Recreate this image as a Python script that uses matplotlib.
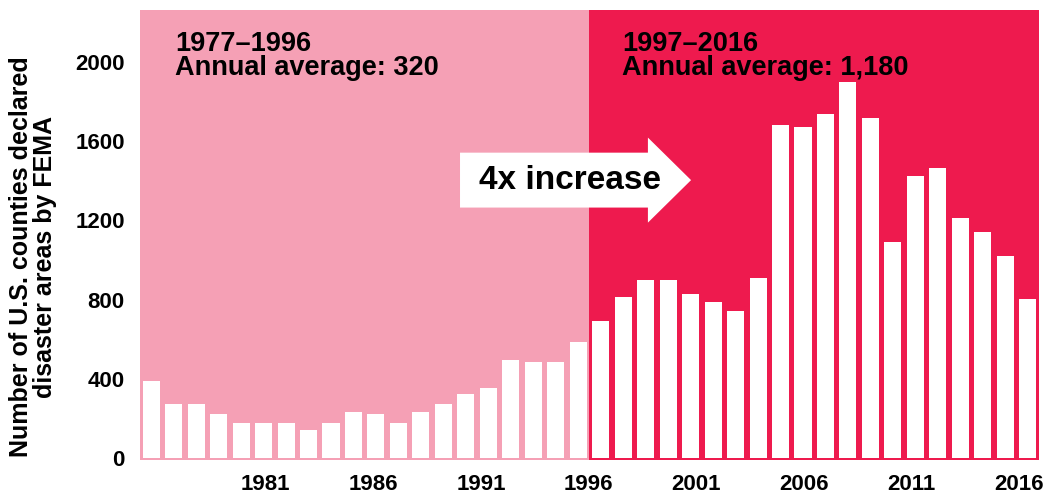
import matplotlib
matplotlib.use("Agg")
import matplotlib.pyplot as plt
from matplotlib.patches import FancyArrow

plt.rcParams['font.family'] = ['Liberation Sans', 'DejaVu Sans']
plt.rcParams['font.weight'] = 'bold'

# FEMA declared counties per year
years = list(range(1977, 2017))
counties = [390, 275, 275, 222, 176, 176, 176, 141, 176, 232,
            222, 176, 232, 275, 323, 353, 494, 484, 484, 585,
            692, 813, 899, 899, 828, 788, 742, 909, 1682, 1671,
            1737, 1899, 1717, 1091, 1424, 1465, 1212, 1141, 1020, 803]
period_labels = ["1977\u20131996", "1997\u20132016"]
period_avgs = ["Annual average: 320", "Annual average: 1,180"]
xtick_years = [1981, 1986, 1991, 1996, 2001, 2006, 2011, 2016]
yticks = [0, 400, 800, 1200, 1600, 2000]

pink = "#F5A0B5"
red = "#EE1A4E"

fig = plt.figure(figsize=(10.46, 4.93), dpi=100)
ax = fig.add_axes([0.1338, 0.0669, 0.8595, 0.9128])

ax.axvspan(1976.5, 1996.5, color=pink, lw=0, zorder=0)
ax.axvspan(1996.5, 2016.5, color=red, lw=0, zorder=0)
ax.bar(years, counties, width=0.76, color="white", zorder=2)

ax.set_xlim(1976.5, 2016.5)
ax.set_ylim(-10, 2262)
# the original's year labels sit on a slightly squeezed scale
ax.set_xticks([1982.1 + (y - 1981) * 0.957 for y in xtick_years])
ax.set_xticklabels([str(y) for y in xtick_years], fontsize=16, fontweight='bold')
ax.set_yticks(yticks)
ax.set_yticklabels([str(v) for v in yticks], fontsize=16, fontweight='bold')
ax.tick_params(length=0, pad=10)
ax.tick_params(axis='y', pad=11)
for s in ax.spines.values():
    s.set_visible(False)

# period headers
for x0, lab, avg in [(0.039, period_labels[0], period_avgs[0]),
                     (0.536, period_labels[1], period_avgs[1])]:
    ax.text(x0, 0.953, lab + "\n" + avg, transform=ax.transAxes, fontsize=19.5,
            fontweight='bold', va='top', ha='left', linespacing=0.9)

# arrow
arr = FancyArrow(0.356, 0.622, 0.257, 0, width=0.122, head_width=0.189,
                 head_length=0.048, length_includes_head=True,
                 transform=ax.transAxes, color="white", lw=0, zorder=3)
ax.add_patch(arr)
ax.text(0.478, 0.622, "4x increase", transform=ax.transAxes, fontsize=24,
        fontweight='bold', ha='center', va='center', zorder=4)

fig.text(0.032, 0.479, "Number of U.S. counties declared\ndisaster areas by FEMA",
         rotation=90, ha='center', va='center', multialignment='center',
         fontsize=18, fontweight='bold', linespacing=1.0)

fig.savefig("out.png", dpi=100)
